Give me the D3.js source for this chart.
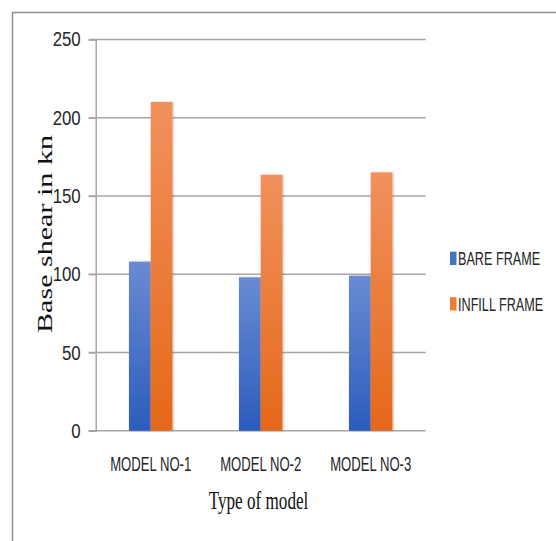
<!DOCTYPE html>
<html>
<head>
<meta charset="utf-8">
<script src="https://cdn.jsdelivr.net/npm/d3@7"></script>
<style>
  body { margin: 0; background: #fff; }
  svg { display: block; }
</style>
</head>
<body>
<div id="chart"></div>
<script>
// Data
const categories = ['MODEL NO-1', 'MODEL NO-2', 'MODEL NO-3'];
const seriesNames = ['BARE FRAME', 'INFILL FRAME'];
const bareFrame = [108, 98, 99];
const infillFrame = [210, 163.5, 165];
const yTicks = [0, 50, 100, 150, 200, 250];

const W = 556, H = 541;

const svg = d3.select('#chart')
    .append('svg')
    .attr('width', W)
    .attr('height', H);

// gradients for bars
const defs = svg.append('defs');
const grads = [
    { id: 'gBlue', top: '#6a8bd2', bottom: '#2c5cbd' },
    { id: 'gOrange', top: '#f1915c', bottom: '#e5681a' }
];
grads.forEach(g => {
    const lg = defs.append('linearGradient')
        .attr('id', g.id)
        .attr('x1', 0).attr('y1', 0).attr('x2', 0).attr('y2', 1);
    lg.append('stop').attr('offset', '0%').attr('stop-color', g.top);
    lg.append('stop').attr('offset', '100%').attr('stop-color', g.bottom);
});
const shadow = defs.append('filter').attr('id', 'shadow')
    .attr('x', '-20%').attr('y', '-5%').attr('width', '140%').attr('height', '110%');
shadow.append('feDropShadow')
    .attr('dx', 1).attr('dy', 0).attr('stdDeviation', 1)
    .attr('flood-color', '#000').attr('flood-opacity', 0.25);

// outer frame (top and left edges)
svg.append('path')
    .attr('d', `M12.5,${H} L12.5,12.5 L${W},12.5`)
    .attr('fill', 'none')
    .attr('stroke', '#8f8f8f')
    .attr('stroke-width', 1.5);

const plotLeft = 95.7, plotRight = 425.7, plotTop = 39.4, plotBottom = 430.7;

const x = d3.scaleBand()
    .domain(categories)
    .range([plotLeft, plotRight])
    .padding(0);

const x1 = d3.scaleBand()
    .domain(seriesNames)
    .range([0, x.bandwidth()])
    .paddingInner(0)
    .paddingOuter(1.53);

const y = d3.scaleLinear()
    .domain([0, 250])
    .range([plotBottom, plotTop]);

const color = d3.scaleOrdinal()
    .domain(seriesNames)
    .range(['url(#gBlue)', 'url(#gOrange)']);
const legendColor = d3.scaleOrdinal()
    .domain(seriesNames)
    .range(['#4472c4', '#ed7d31']);

const sansFont = '"Liberation Sans", Arial, sans-serif';
const serifFont = '"Liberation Serif", "Times New Roman", serif';

// narrow text: draw at origin inside a translated + x-scaled group
function narrowText(parent, px, py, str, opts) {
    const g = parent.append('g')
        .attr('transform', `translate(${px},${py}) scale(${opts.sx},1)${opts.rotate ? ' rotate(' + opts.rotate + ')' : ''}`);
    return g.append('text')
        .attr('text-anchor', opts.anchor || 'start')
        .attr('fill', opts.fill || '#262626')
        .style('font-family', opts.font || sansFont)
        .style('font-size', opts.size + 'px')
        .text(str);
}

// gridlines
svg.append('g')
    .selectAll('line')
    .data(yTicks)
    .join('line')
    .attr('x1', plotLeft - 7)
    .attr('x2', plotRight)
    .attr('y1', d => y(d))
    .attr('y2', d => y(d))
    .attr('stroke', '#a6a6a6')
    .attr('stroke-width', 1.5);

// y axis
const tickSx = 0.82;
const yAxis = svg.append('g')
    .attr('transform', `translate(${plotLeft},0)`)
    .call(d3.axisLeft(y).tickValues(yTicks).tickSize(7).tickPadding(8));
yAxis.select('.domain').attr('stroke', '#a6a6a6').attr('stroke-width', 1.5);
yAxis.selectAll('.tick line').attr('stroke', '#a6a6a6').attr('stroke-width', 1.5);
yAxis.selectAll('text')
    .attr('fill', '#262626')
    .attr('x', -15 / tickSx)
    .attr('transform', `scale(${tickSx},1)`)
    .style('font-family', sansFont)
    .style('font-size', '20.5px');

// bars
const rows = categories.map((c, i) => ({
    cat: c,
    vals: [
        { key: seriesNames[0], v: bareFrame[i] },
        { key: seriesNames[1], v: infillFrame[i] }
    ]
}));

svg.append('g')
    .selectAll('g')
    .data(rows)
    .join('g')
    .attr('transform', d => `translate(${x(d.cat)},0)`)
    .selectAll('rect')
    .data(d => d.vals)
    .join('rect')
    .attr('x', d => x1(d.key))
    .attr('y', d => y(d.v))
    .attr('width', x1.bandwidth())
    .attr('height', d => y(0) - y(d.v))
    .attr('fill', d => color(d.key))
    .attr('filter', 'url(#shadow)');

// x category labels
const xLabels = svg.append('g');
categories.forEach(c => {
    narrowText(xLabels, x(c) + x.bandwidth() / 2, 471, c,
        { sx: 0.64, size: 20.5, anchor: 'middle' });
});

// axis titles
narrowText(svg, 258.5, 508.5, 'Type of model',
    { sx: 0.7, size: 24.5, anchor: 'middle', font: serifFont, fill: '#111' });

narrowText(svg, 51.5, 234, 'Base shear in kn',
    { sx: 0.72, size: 29, anchor: 'middle', font: serifFont, fill: '#111', rotate: -90 })
    .attr('textLength', 198)
    .attr('lengthAdjust', 'spacingAndGlyphs');

// legend
const legend = svg.append('g')
    .selectAll('g')
    .data(seriesNames)
    .join('g')
    .attr('transform', (d, i) => `translate(450,${251.7 + i * 45.5})`);

legend.append('rect')
    .attr('width', 6.5)
    .attr('height', 13.3)
    .attr('fill', d => legendColor(d));

legend.each(function (d) {
    narrowText(d3.select(this), 8, 13.3, d, { sx: 0.68, size: 18.6 });
});
</script>
</body>
</html>
